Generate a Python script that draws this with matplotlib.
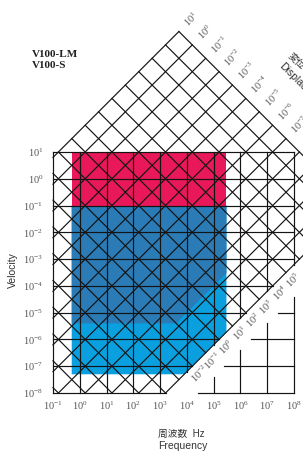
import matplotlib.pyplot as plt
import numpy as np

# decades shown on the two axes
freq_exp = list(range(-1, 9))     # 10^-1 .. 10^8 Hz
vel_exp = list(range(-8, 2))      # 10^-8 .. 10^1
# diagonal lines (displacement d = v / 2pi f, acceleration a = 2pi f v)
disp_exp = list(range(-12, 2))
disp_label_exp = list(range(-7, 2))
acc_exp = list(range(-8, 11))
acc_label_exp = list(range(-2, 6))

# measuring ranges of the two sensors
red_f = [0.5, 3e5]
red_v = [0.1, 10.0]
dark_f = [0.5, 3e5]
dark_v = [4e-6, 0.1]
dark_dmin = 1.6e-10
light_f = [0.5, 3e5]
light_v = [5e-8, 0.1]
light_dmin = 1e-12

F_MIN, F_MAX = 1e-1, 1e8
V_MIN, V_MAX = 1e-8, 1e1
D_MIN, D_MAX = 1e-12, 1e1
D_GAP = 10 ** -13.2     # edge of the label band below D_MIN
A_MAX = 1e10
TWO_PI = 2 * np.pi

line_col = '#141414'
lw = 0.85
lab_col = '#555555'
serif = 'Liberation Serif'


def sup(e):
    return r'$\mathregular{10^{%d}}$' % e


W, H = 303, 451
fig = plt.figure(figsize=(W / 100, H / 100), dpi=100)
ax = fig.add_axes([53 / W, (H - 393) / H, 241 / W, 241 / H])
ax.set_xscale('log')
ax.set_yscale('log')
ax.set_xlim(F_MIN, F_MAX)
ax.set_ylim(V_MIN, V_MAX)
for s in ax.spines.values():
    s.set_visible(False)
ax.minorticks_off()
ax.set_xticks([10.0 ** e for e in freq_exp])
ax.set_xticklabels([sup(e) for e in freq_exp], fontfamily=serif, fontsize=7.5, color=lab_col)
ax.set_yticks([10.0 ** e for e in vel_exp])
ax.set_yticklabels([sup(e) for e in vel_exp], fontfamily=serif, fontsize=7.5, color=lab_col)
ax.tick_params(length=0)
ax.tick_params(axis='x', pad=5)
ax.tick_params(axis='y', pad=7)

# coloured ranges
f_l = light_v[0] / (TWO_PI * light_dmin)
ax.fill([light_f[0], light_f[1], light_f[1], f_l, light_f[0]],
        [light_v[1], light_v[1], TWO_PI * light_f[1] * light_dmin, light_v[0], light_v[0]],
        color='#0aa0e0', lw=0, zorder=1)
f_d = dark_v[0] / (TWO_PI * dark_dmin)
ax.fill([dark_f[0], dark_f[1], dark_f[1], f_d, dark_f[0]],
        [dark_v[1], dark_v[1], TWO_PI * dark_f[1] * dark_dmin, dark_v[0], dark_v[0]],
        color='#2b7bb6', lw=0, zorder=2)
ax.fill([red_f[0], red_f[1], red_f[1], red_f[0]],
        [red_v[0], red_v[0], red_v[1], red_v[1]],
        color='#e8185a', lw=0, zorder=3)

# vertical / horizontal grid, with a blank band for acceleration labels
for e in freq_exp:
    f = 10.0 ** e
    lo, hi = TWO_PI * f * D_GAP, TWO_PI * f * D_MIN
    if min(V_MAX, lo) > V_MIN:
        ax.plot([f, f], [V_MIN, min(V_MAX, lo)], color=line_col, lw=lw, zorder=4, clip_on=False)
    if max(V_MIN, hi) < V_MAX:
        ax.plot([f, f], [max(V_MIN, hi), V_MAX], color=line_col, lw=lw, zorder=4, clip_on=False)
for e in vel_exp:
    v = 10.0 ** e
    lo, hi = v / (TWO_PI * D_MIN), v / (TWO_PI * D_GAP)
    if min(F_MAX, lo) > F_MIN:
        ax.plot([F_MIN, min(F_MAX, lo)], [v, v], color=line_col, lw=lw, zorder=4, clip_on=False)
    if max(F_MIN, hi) < F_MAX:
        ax.plot([max(F_MIN, hi), F_MAX], [v, v], color=line_col, lw=lw, zorder=4, clip_on=False)

# displacement lines
for k in disp_exp:
    d = 10.0 ** k
    f0 = max(F_MIN, V_MIN / (TWO_PI * d))
    f1 = min(np.sqrt(A_MAX / d) / TWO_PI, 1e9)
    if f0 < f1:
        ax.plot([f0, f1], [TWO_PI * f0 * d, TWO_PI * f1 * d], color=line_col, lw=lw,
                zorder=4, clip_on=False)
        if k in disp_label_exp:
            ax.annotate(sup(k), xy=(f1, TWO_PI * f1 * d), xytext=(5, 5),
                        textcoords='offset points', rotation=45, rotation_mode='anchor',
                        ha='left', va='center', fontfamily=serif, fontsize=7.5,
                        color=lab_col, annotation_clip=False)

# acceleration lines
for m in acc_exp:
    a = 10.0 ** m
    f0 = max(F_MIN, np.sqrt(a / D_MAX) / TWO_PI)
    f1 = min(np.sqrt(a / D_MIN) / TWO_PI, a / (TWO_PI * V_MIN), 1e9)
    if f0 < f1:
        ax.plot([f0, f1], [a / (TWO_PI * f0), a / (TWO_PI * f1)], color=line_col, lw=lw,
                zorder=4, clip_on=False)

d_lab = 10 ** -12.55
for m in acc_label_exp:
    a = 10.0 ** m
    ax.text(np.sqrt(a / d_lab) / TWO_PI, np.sqrt(a * d_lab), sup(m), rotation=45,
            rotation_mode='anchor', ha='center', va='center', fontfamily=serif,
            fontsize=7.5, color=lab_col, clip_on=False)

# titles
fig.text(32 / W, 1 - 57 / H, 'V100-LM', fontfamily=serif, fontweight='bold', fontsize=8,
         color='#222222', va='baseline')
fig.text(32 / W, 1 - 68.5 / H, 'V100-S', fontfamily=serif, fontweight='bold', fontsize=8,
         color='#222222', va='baseline')
fig.text(13 / W, 1 - 270 / H, 'Velocity', rotation=90, fontfamily='Liberation Sans',
         fontsize=7.5, color='#333333', ha='center', va='center')
fig.text(158 / W, 1 - 437 / H, '周波数  Hz', family=['Liberation Sans', 'Noto Sans CJK JP'],
         fontsize=7, color='#333333', va='baseline')
fig.text(158 / W, 1 - 449 / H, 'Frequency', fontfamily='Liberation Sans',
         fontsize=7.5, color='#333333', va='baseline')
fig.text(289 / W, 1 - 54 / H, '変位', family=['Noto Sans CJK JP'], fontsize=7,
         color='#333333', rotation=-45, rotation_mode='anchor', ha='left', va='center')
fig.text(281 / W, 1 - 64 / H, 'Displacement', fontfamily='Liberation Sans', fontsize=7.5,
         color='#333333', rotation=-45, rotation_mode='anchor', ha='left', va='center')

fig.savefig('out.png', dpi=100)
